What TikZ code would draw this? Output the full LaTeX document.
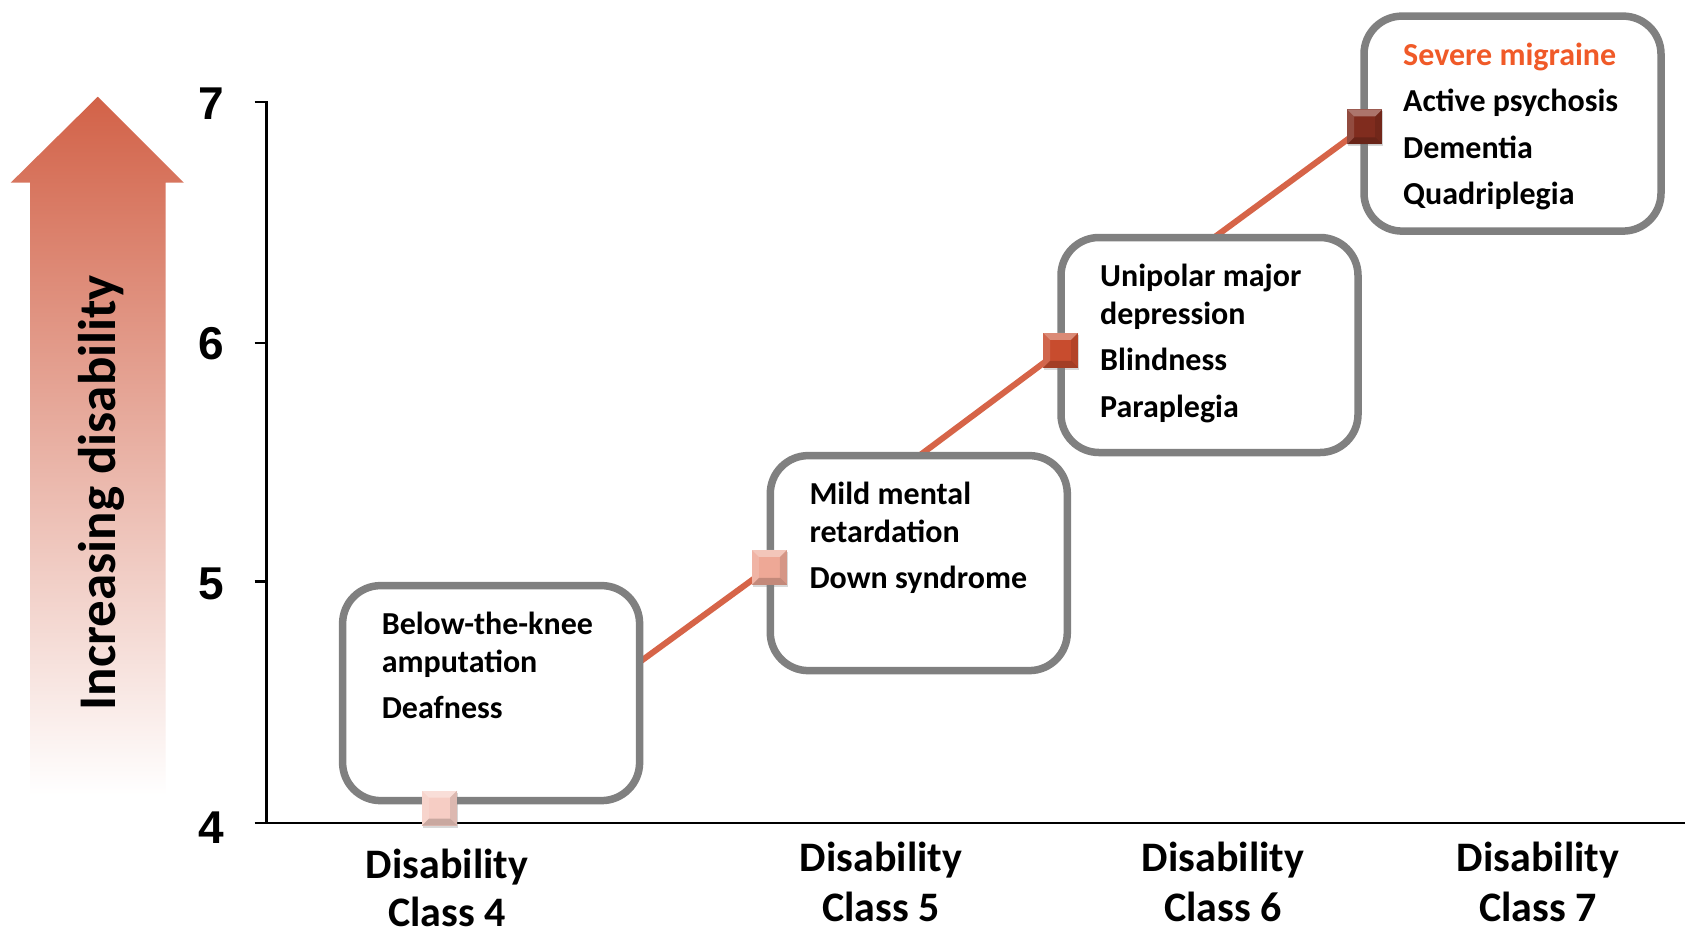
\documentclass[tikz,border=0pt]{standalone}
\usepackage{fontspec}
\setmainfont{Carlito}
\newfontfamily\arialfont{Liberation Sans}
\usetikzlibrary{calc,backgrounds,shadows}
\definecolor{trendred}{RGB}{214,100,72}
\definecolor{boxgray}{RGB}{128,128,128}
\definecolor{arrowtop}{RGB}{210,98,72}
\definecolor{migraine}{RGB}{240,90,40}
\definecolor{mkfour}{RGB}{246,205,196}
\definecolor{mkfive}{RGB}{238,168,150}
\definecolor{mksix}{RGB}{200,76,46}
\definecolor{mkseven}{RGB}{128,44,30}
\tikzset{
  classbox/.style={draw=boxgray, line width=7.5pt, rounded corners=38pt, fill=white,
    minimum width=297pt, minimum height=215pt, inner sep=0pt, outer sep=0pt},
  boxtext/.style={anchor=north west, inner sep=0pt, align=left,
    font=\fontsize{32}{37.3}\selectfont\bfseries},
  sqmark/.style={rectangle, minimum size=35pt, inner sep=0pt, draw=none, fill=#1,
    drop shadow={shadow xshift=1pt, shadow yshift=-2pt, opacity=0.3},
    path picture={
      \fill[white,opacity=.35] (path picture bounding box.north west) -- (path picture bounding box.north east)
        -- ([xshift=-7pt,yshift=-7pt]path picture bounding box.north east) -- ([xshift=7pt,yshift=-7pt]path picture bounding box.north west) -- cycle;
      \fill[white,opacity=.15] (path picture bounding box.north west) -- ([xshift=7pt,yshift=-7pt]path picture bounding box.north west)
        -- ([xshift=7pt,yshift=7pt]path picture bounding box.south west) -- (path picture bounding box.south west) -- cycle;
      \fill[black,opacity=.10] (path picture bounding box.north east) -- ([xshift=-7pt,yshift=-7pt]path picture bounding box.north east)
        -- ([xshift=-7pt,yshift=7pt]path picture bounding box.south east) -- (path picture bounding box.south east) -- cycle;
      \fill[black,opacity=.18] (path picture bounding box.south west) -- (path picture bounding box.south east)
        -- ([xshift=-7pt,yshift=7pt]path picture bounding box.south east) -- ([xshift=7pt,yshift=7pt]path picture bounding box.south west) -- cycle;
    }},
  trend/.style={draw=trendred, line width=6pt},
  axisline/.style={draw=black, line width=2.2pt},
  ticklab/.style={inner sep=0pt, font=\arialfont\bfseries\fontsize{46}{46}\selectfont},
  classlab/.style={anchor=north, inner sep=0pt, align=center,
    font=\fontsize{42}{50}\selectfont\bfseries},
}
\begin{document}
\begin{tikzpicture}[x=1pt,y=-1pt]
\useasboundingbox (0,0) rectangle (1685,940);

% arrow
\shade[top color=arrowtop, bottom color=white]
  (97.8,96.7) -- (183.8,182.7) -- (165.5,182.7) -- (165.5,795) -- (30,795) -- (30,182.7) -- (10.7,182.7) -- cycle;
\node[rotate=90, anchor=base, inner sep=0pt, font=\bfseries\fontsize{53}{53}\selectfont] (inc) at (115,492.7) {Increasing disability};

% axes
\draw[axisline] (254.7,102) -- (266.5,102) -- (266.5,823.1);
\draw[axisline] (254.7,823.1) -- (1685,823.1);
\draw[axisline] (254.7,342.8) -- (266.5,342.8);
\draw[axisline] (254.7,581.4) -- (266.5,581.4);
\node[ticklab] (t7) at (211.7,104) {7};
\node[ticklab] (t6) at (211.7,344) {6};
\node[ticklab] (t5) at (211.7,583.5) {5};
\node[ticklab] (t4) at (211.7,827.5) {4};

% boxes
\node[classbox] (b4) at (491.1,693.1) {};
\node[classbox] (b5) at (918.8,563.1) {};
\node[classbox] (b6) at (1209.5,345) {};
\node[classbox] (b7) at (1512.5,123.6) {};

\node[boxtext] (x4) at ($(b4.north west)+(39,23)$) {\strut Below-the-knee\\ amputation\\[9.2pt] Deafness};
\node[boxtext] (x5) at ($(b5.north west)+(39,23)$) {\strut Mild mental\\ retardation\\[9.2pt] Down syndrome};
\node[boxtext] (x6) at ($(b6.north west)+(39,23)$) {\strut Unipolar major\\ depression\\[9.2pt] Blindness\\[9.2pt] Paraplegia};
\node[boxtext] (x7) at ($(b7.north west)+(39,23)$) {\strut\textcolor{migraine}{Severe migraine}\\[9.2pt] Active psychosis\\[9.2pt] Dementia\\[9.2pt] Quadriplegia};

% markers
\node[sqmark=mkfour] (m4) at (439.5,808) {};
\node[sqmark=mkfive] (m5) at (769.4,567.4) {};
\node[sqmark=mksix] (m6) at (1060.6,350.3) {};
\node[sqmark=mkseven] (m7) at (1364.7,126.8) {};

% class labels
\node[classlab] (c4) at (447,843) {\strut Disability\\[-2pt] Class 4};
\node[classlab] (c5) at (881,836.5) {\strut Disability\\ Class 5};
\node[classlab] (c6) at (1223,836.5) {\strut Disability\\ Class 6};
\node[classlab] (c7) at (1538,836.5) {\strut Disability\\ Class 7};

\begin{scope}[on background layer]
  \fill[white] (0,0) rectangle (1685,940);
  \draw[trend] (m4.center) -- (m5.center) -- (m6.center) -- (m7.center);
\end{scope}
\end{tikzpicture}
\end{document}
